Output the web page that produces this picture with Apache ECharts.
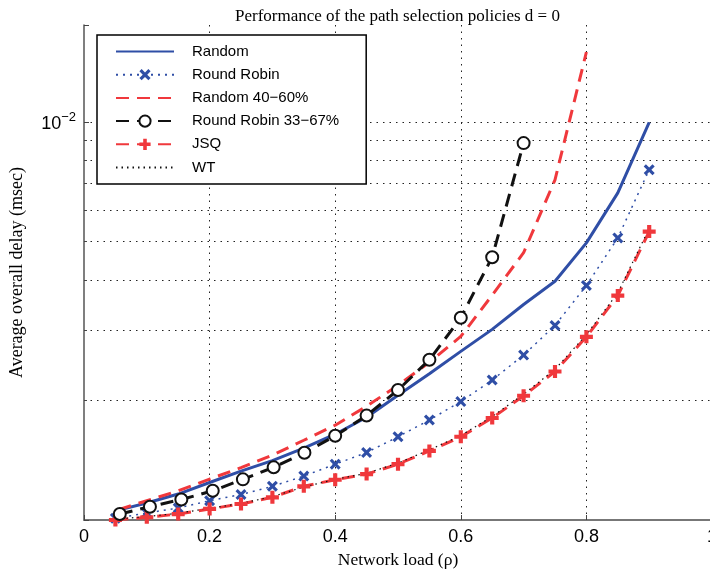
<!DOCTYPE html>
<html>
<head>
<meta charset="utf-8">
<script src="https://cdn.jsdelivr.net/npm/echarts@6/dist/echarts.min.js"></script>
<style>
  html, body { margin: 0; padding: 0; background: #fff; }
  #chart { width: 710px; height: 577px; }
</style>
</head>
<body>
<div id="chart"></div>
<script>
// network load values (x) per series
var loadX       = [0.05, 0.1, 0.15, 0.2, 0.25, 0.3, 0.35, 0.4, 0.45, 0.5, 0.55, 0.6, 0.65, 0.7, 0.75, 0.8, 0.85, 0.9];
var randomX     = [0.055, 0.1, 0.15, 0.2, 0.25, 0.3, 0.35, 0.4, 0.45, 0.5, 0.55, 0.6, 0.65, 0.7, 0.75, 0.8, 0.85, 0.9];
var random4060X = [0.055, 0.1, 0.15, 0.2, 0.25, 0.3, 0.35, 0.4, 0.45, 0.5, 0.55, 0.6, 0.65, 0.7, 0.75, 0.8];
var rr3367X     = [0.057, 0.105, 0.155, 0.205, 0.253, 0.302, 0.351, 0.4, 0.45, 0.5, 0.55, 0.6, 0.65, 0.7];

// average overall delay (msec)
var randomY     = [0.001059, 0.001103, 0.001162, 0.001242, 0.001327, 0.00141, 0.001515, 0.001642, 0.001811, 0.002057, 0.002329, 0.002651, 0.003011, 0.003477, 0.003977, 0.004966, 0.00663, 0.00996];
var roundRobinY = [0.00101, 0.001041, 0.001072, 0.001118, 0.001159, 0.001215, 0.001289, 0.001381, 0.001477, 0.001618, 0.001783, 0.001983, 0.002246, 0.002595, 0.00308, 0.00388, 0.00511, 0.00758];
var random4060Y = [0.001062, 0.001118, 0.001184, 0.001267, 0.001354, 0.001455, 0.001586, 0.00173, 0.00193, 0.002179, 0.002489, 0.00289, 0.00367, 0.00469, 0.00715, 0.01497];
var rr3367Y     = [0.001035, 0.00108, 0.001126, 0.001184, 0.001265, 0.001356, 0.001475, 0.001627, 0.001829, 0.00212, 0.002525, 0.003221, 0.00457, 0.00884];
var jsqY        = [0.001, 0.001016, 0.001035, 0.001066, 0.001097, 0.00114, 0.001215, 0.001262, 0.001304, 0.001381, 0.001491, 0.001618, 0.001804, 0.002051, 0.00236, 0.002884, 0.00366, 0.0053];
var wtY         = [0.001005, 0.00102, 0.00104, 0.00107, 0.0011, 0.001145, 0.00121, 0.001265, 0.00131, 0.00139, 0.0015, 0.00163, 0.00182, 0.00207, 0.00239, 0.00292, 0.00372, 0.0054];

var seriesNames = ['Random', 'Round Robin', 'Random 40\u221260%', 'Round Robin 33\u221267%', 'JSQ', 'WT'];

var blue = '#2f4ea6';
var red = '#f0383c';
var xMark = 'path://M2,0 L5,3 L8,0 L10,2 L7,5 L10,8 L8,10 L5,7 L2,10 L0,8 L3,5 L0,2 Z';
var plusMark = 'path://M3.4,0 H6.6 V3.4 H10 V6.6 H6.6 V10 H3.4 V6.6 H0 V3.4 H3.4 Z';

function pairs(xs, ys) {
  var out = [];
  for (var i = 0; i < xs.length; i++) out.push([xs[i], ys[i]]);
  return out;
}

var gridDots = { color: '#222', width: 1, type: [1.5, 5] };
var serif = 'Liberation Serif';
var sans = 'Liberation Sans';
var noMarker = { opacity: 0 };

var myChart = echarts.init(document.getElementById('chart'));
var option = {
  backgroundColor: '#fff',
  animation: false,
  title: {
    text: 'Performance of the path selection policies d = 0',
    left: 230,
    top: 3,
    textStyle: { fontFamily: serif, fontSize: 17, fontWeight: 'normal', color: '#000' }
  },
  grid: { left: 84, right: -2, top: 25, bottom: 57, outerBoundsMode: 'none', containLabel: false },
  legend: {
    data: [
      { name: seriesNames[0], itemStyle: noMarker },
      { name: seriesNames[1] },
      { name: seriesNames[2], itemStyle: noMarker },
      { name: seriesNames[3], itemStyle: { color: '#111' } },
      { name: seriesNames[4] },
      { name: seriesNames[5], itemStyle: noMarker }
    ],
    orient: 'vertical',
    left: 97,
    top: 35,
    backgroundColor: '#fff',
    borderColor: '#000',
    borderWidth: 1.5,
    borderRadius: 0,
    padding: [9, 27, 9, 18],
    itemWidth: 58,
    itemHeight: 14,
    itemGap: 8.2,
    textStyle: { fontFamily: sans, fontSize: 15, color: '#000', padding: [0, 0, 0, 13], lineHeight: 15 }
  },
  xAxis: {
    type: 'value',
    min: 0,
    max: 1,
    interval: 0.2,
    name: 'Network load (\u03c1)',
    nameLocation: 'middle',
    nameGap: 31,
    nameTextStyle: { fontFamily: serif, fontSize: 17.5, color: '#000' },
    axisLine: { onZero: false, lineStyle: { color: '#777', width: 2 } },
    axisTick: { inside: true, length: 5, lineStyle: { color: '#444' } },
    axisLabel: {
      fontFamily: sans, fontSize: 18, color: '#000', margin: 8,
      showMinLabel: true, showMaxLabel: true,
      formatter: function (v) { return (v === 0 || v === 1) ? String(v) : v.toFixed(1); }
    },
    splitLine: { show: true, showMinLine: false, showMaxLine: false, lineStyle: gridDots }
  },
  yAxis: {
    type: 'log',
    logBase: 10,
    min: 0.001,
    max: 0.0175,
    name: 'Average overall delay (msec)',
    nameLocation: 'middle',
    nameGap: 58,
    nameTextStyle: { fontFamily: serif, fontSize: 18, color: '#000' },
    axisLine: { onZero: false, lineStyle: { color: '#555', width: 1.5 } },
    axisTick: { inside: true, length: 5, lineStyle: { color: '#444' } },
    minorTick: { show: true, splitNumber: 9, length: 3, lineStyle: { color: '#444' } },
    minorSplitLine: { show: true, lineStyle: gridDots },
    splitLine: { show: true, showMinLine: false, showMaxLine: false, lineStyle: gridDots },
    axisLabel: {
      margin: 8,
      formatter: function (v) {
        return Math.abs(v - 0.01) < 1e-9 ? '{b|10}{s|\u22122}' : '';
      },
      rich: {
        b: { fontFamily: sans, fontSize: 18, color: '#000', lineHeight: 22, verticalAlign: 'bottom' },
        s: { fontFamily: sans, fontSize: 13, color: '#000', verticalAlign: 'top', lineHeight: 22 }
      }
    }
  },
  series: [
    {
      name: seriesNames[0], type: 'line', data: pairs(randomX, randomY),
      symbol: 'none', clip: false,
      lineStyle: { color: blue, width: 3 }, itemStyle: { color: blue }, z: 3
    },
    {
      name: seriesNames[1], type: 'line', data: pairs(loadX, roundRobinY),
      symbol: xMark, symbolSize: 11, clip: false,
      lineStyle: { color: blue, width: 1.5, type: [2, 5] }, itemStyle: { color: blue, borderWidth: 0 }, z: 4
    },
    {
      name: seriesNames[2], type: 'line', data: pairs(random4060X, random4060Y),
      symbol: 'none', clip: false,
      lineStyle: { color: red, width: 3, type: [13, 8] }, itemStyle: { color: red }, z: 3
    },
    {
      name: seriesNames[3], type: 'line', data: pairs(rr3367X, rr3367Y),
      symbol: 'emptyCircle', symbolSize: 12, clip: false,
      lineStyle: { color: '#111', width: 3, type: [13, 8] }, itemStyle: { color: '#111', borderWidth: 2.5 }, z: 5
    },
    {
      name: seriesNames[4], type: 'line', data: pairs(loadX, jsqY),
      symbol: plusMark, symbolSize: 13, clip: false,
      lineStyle: { color: red, width: 3, type: [13, 8] }, itemStyle: { color: red, borderWidth: 0 }, z: 4
    },
    {
      name: seriesNames[5], type: 'line', data: pairs(loadX, wtY),
      symbol: 'none', clip: false,
      lineStyle: { color: '#111', width: 1.2, type: [1.5, 4] }, itemStyle: { color: '#111' }, z: 4
    }
  ]
};
myChart.setOption(option);
</script>
</body>
</html>
